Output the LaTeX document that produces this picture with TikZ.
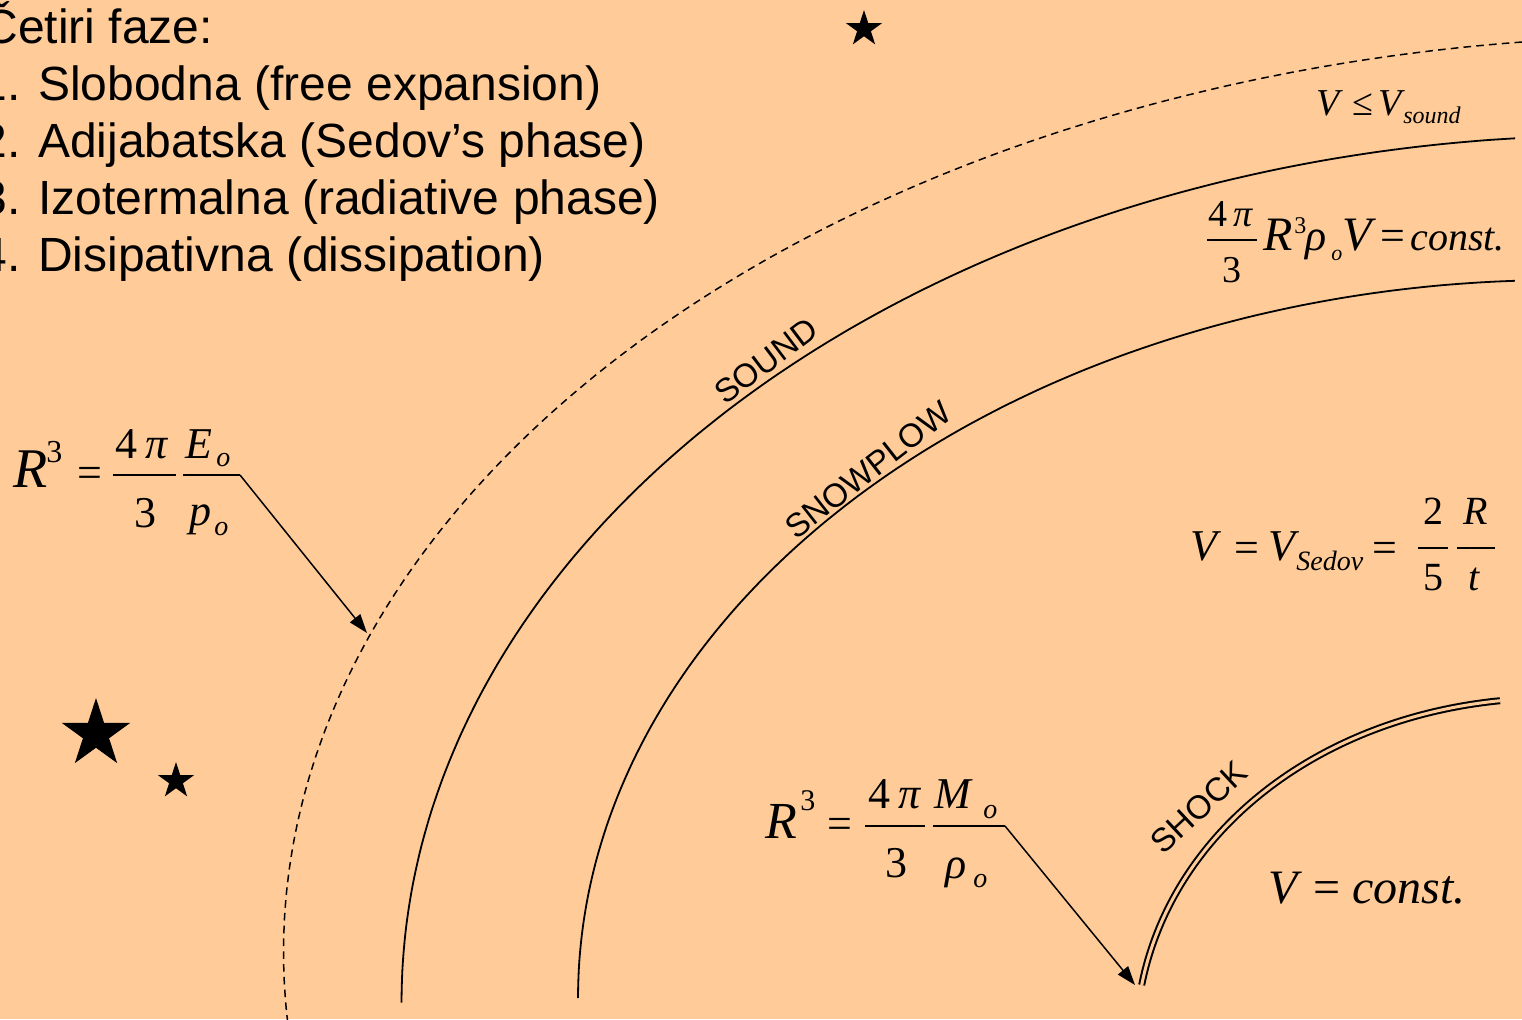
\documentclass[tikz,border=0pt]{standalone}
\usepackage{fontspec}
\setmainfont{Liberation Serif}
\newfontfamily\arialf{Liberation Sans}
\usetikzlibrary{arrows.meta}
\definecolor{bgc}{HTML}{FFCC99}
\newcommand\sz[1]{\fontsize{#1}{#1}\selectfont}
\newcommand\fivestar[4]{%
  \fill (#1,#2) +(-90:#3) -- +(-54:#4) -- +(-18:#3) -- +(18:#4) -- +(54:#3)
    -- +(90:#4) -- +(126:#3) -- +(162:#4) -- +(198:#3) -- +(234:#4) -- cycle;}
\tikzset{
  lst/.style={anchor=base west, inner sep=0, font=\arialf\sz{24}},
  lbl/.style={inner sep=0, font=\arialf\sz{16.5}},
  arcline/.style={line width=0.9pt},
  dsh/.style={line width=0.75pt, dash pattern=on 3.8pt off 2.6pt},
  fbar/.style={line width=0.75pt},
  arr/.style={line width=0.75pt, -{Triangle[length=9.5pt,width=6.5pt]}},
  mi/.style={inner sep=0, font=\sz{#1}\itshape},
  mu/.style={inner sep=0, font=\sz{#1}},
}
\begin{document}
\begin{tikzpicture}[x=0.5pt,y=-0.5pt]
\useasboundingbox (0,0) rectangle (1522,1019);
\fill[bgc] (0,0) rectangle (1522,1019);
\clip (0,0) rectangle (1522,1019);

% list
\node[lst] (t0) at (-17,43) {Četiri faze:};
\node[lst] (t1) at (-20,100) {1. Slobodna (free expansion)};
\node[lst] (t2) at (-20,157) {2. Adijabatska (Sedov’s phase)};
\node[lst] (t3) at (-20,214) {3. Izotermalna (radiative phase)};
\node[lst] (t4) at (-20,271) {4. Disipativna (dissipation)};

% arcs
\draw[dsh] plot[domain=96.55:185, samples=150, smooth, variable=\t] ({1681.5+1398*cos(\t)}, {952-916*sin(\t)});
\draw[arcline] plot[domain=94.57:180, samples=120, smooth, variable=\t] ({1611.5+1210*cos(\t)}, {1002.5-867*sin(\t)});
\draw[arcline] plot[domain=92.63:180, samples=120, smooth, variable=\t] ({1560+982*cos(\t)}, {998-718*sin(\t)});
\draw[line width=1pt, double=bgc, double distance=1.5pt] (1141.7,985) .. controls (1172,833) and (1315,719) .. (1500,700.7);

% arc labels
\node[lbl, rotate=37] (lsound) at (766,361) {SOUND};
\node[lbl, rotate=38] (lsnow) at (868,470) {SNOWPLOW};
\node[lbl, rotate=43] (lshock) at (1199,807) {SHOCK};

% stars
\fivestar{96}{734}{36}{13.75}
\fivestar{176}{781}{19}{7.26}
\fivestar{864}{29}{19}{7.26}

% formula 1
\node[mi=28, anchor=base west] (f1R) at (13,487) {R};
\node[mu=16, anchor=base west] (f1s) at (46,462) {3};
\node[mu=22, anchor=base] (f1eq) at (89.5,487) {=};
\draw[fbar] (113,475) -- (176,475);
\node[mu=22, anchor=base] (f1n) at (142,458) {4\,\textit{π}};
\node[mu=22, anchor=base] (f1d) at (145,527) {3};
\node[mi=22, anchor=base west] (f1E) at (185,458) {E};
\node[mi=14, anchor=base west] (f1Eo) at (216,466) {o};
\node[mi=22, anchor=base west] (f1p) at (189,525) {p};
\node[mi=14, anchor=base west] (f1po) at (214,535) {o};
\coordinate (f1bs) at (183,475);
\coordinate (f1end) at (240,475);
\coordinate (f1tip) at (367,633);
\draw[fbar] (f1bs) -- (f1end);
\draw[arr] (f1end) -- (f1tip);

% formula 2
\node[mi=26, anchor=base west] (f2R) at (765,838) {R};
\node[mu=15, anchor=base west] (f2s) at (800,810) {3};
\node[mu=22, anchor=base] (f2eq) at (840,838) {=};
\draw[fbar] (865,826) -- (925,826);
\node[mu=22, anchor=base] (f2n) at (895,808) {4\,\textit{π}};
\node[mu=22, anchor=base] (f2d) at (896,877) {3};
\node[mi=22, anchor=base west] (f2M) at (934,808) {M};
\node[mi=14, anchor=base west] (f2Mo) at (983,818) {o};
\node[mi=22, anchor=base west] (f2r) at (945,878) {ρ};
\node[mi=14, anchor=base west] (f2ro) at (973,887) {o};
\coordinate (f2bs) at (933,826);
\coordinate (f2end) at (1005,826);
\coordinate (f2tip) at (1135,985);
\draw[fbar] (f2bs) -- (f2end);
\draw[arr] (f2end) -- (f2tip);

% formula 3
\draw[fbar] (1207,240) -- (1257,240);
\node[mu=19, anchor=base] (f3n) at (1231,226) {4\,\textit{π}};
\node[mu=19, anchor=base] (f3d) at (1232,282) {3};
\node[mi=24, anchor=base west] (f3R) at (1263,250) {R};
\node[mu=12, anchor=base west] (f3s) at (1294,233) {3};
\node[mi=22, anchor=base west] (f3r) at (1305,250) {ρ};
\node[mi=11, anchor=base west] (f3ro) at (1331,260) {o};
\node[mi=24, anchor=base west] (f3V) at (1342,250) {V};
\node[mu=22, anchor=base] (f3eq) at (1393,250) {=};
\node[mi=20, anchor=base west] (f3c) at (1410,250) {const.};

% formula 4
\node[mi=19, anchor=base west] (f4V) at (1316,115) {V};
\node[mu=19, anchor=base] (f4le) at (1363,115) {≤};
\node[mi=19, anchor=base west] (f4V2) at (1378,115) {V};
\node[mi=12, anchor=base west] (f4s) at (1403,123) {sound};

% formula 5
\node[mi=22, anchor=base west] (f5V) at (1190,560) {V};
\node[mu=22, anchor=base] (f5eq) at (1247,562) {=};
\node[mi=22, anchor=base west] (f5V2) at (1268,560) {V};
\node[mi=14, anchor=base west] (f5S) at (1296,570) {Sedov};
\node[mu=22, anchor=base] (f5eq2) at (1385,562) {=};
\draw[fbar] (1418,548) -- (1448,548);
\draw[fbar] (1457,548) -- (1495,548);
\node[mu=20, anchor=base] (f5a) at (1433,524) {2};
\node[mu=20, anchor=base] (f5b) at (1433,590) {5};
\node[mi=20, anchor=base] (f5c) at (1476,524) {R};
\node[mi=20, anchor=base] (f5d) at (1474,590) {t};

% formula 6
\node[mi=24, anchor=base west] (f6V) at (1268,903) {V};
\node[mu=24, anchor=base] (f6eq) at (1327,903) {=};
\node[mi=24, anchor=base west] (f6c) at (1352,903) {const.};
\end{tikzpicture}
\end{document}
